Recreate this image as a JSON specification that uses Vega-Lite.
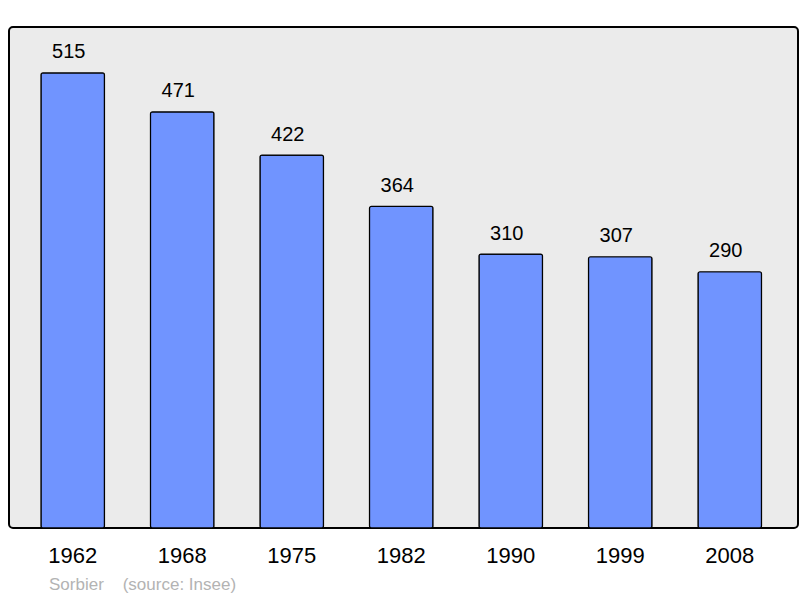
{
  "$schema": "https://vega.github.io/schema/vega-lite/v6.json",
  "width": 789,
  "height": 501,
  "autosize": {"type": "none"},
  "padding": {"left": 9, "top": 27, "right": 2, "bottom": 70},
  "background": "#ffffff",
  "config": {
    "view": {"fill": "#ebebeb", "stroke": "#000000", "strokeWidth": 2, "cornerRadius": 4},
    "font": "Liberation Sans"
  },
  "title": {
    "text": "Sorbier\u00a0\u00a0\u00a0\u00a0(source: Insee)",
    "orient": "bottom",
    "anchor": "start",
    "dx": 40,
    "offset": 11,
    "fontSize": 17,
    "fontWeight": "normal",
    "color": "#b3b3b3",
    "font": "Liberation Sans"
  },
  "data": {
    "values": [
      {"year": "1962", "pop": 515},
      {"year": "1968", "pop": 471},
      {"year": "1975", "pop": 422},
      {"year": "1982", "pop": 364},
      {"year": "1990", "pop": 310},
      {"year": "1999", "pop": 307},
      {"year": "2008", "pop": 290}
    ]
  },
  "encoding": {
    "x": {
      "field": "year",
      "type": "ordinal",
      "scale": {"paddingInner": 0.42, "paddingOuter": 0.3125, "align": 0.467},
      "axis": {"title": null, "domain": false, "ticks": false, "labelAngle": 0, "labelFontSize": 22, "labelColor": "#000", "labelPadding": 17, "grid": false}
    },
    "y": {
      "field": "pop",
      "type": "quantitative",
      "scale": {"domain": [0, 567], "nice": false},
      "axis": null
    }
  },
  "layer": [
    {
      "mark": {"type": "bar", "fill": "#7094ff", "stroke": "#000000", "strokeWidth": 1.2, "cornerRadius": 2}
    },
    {
      "mark": {"type": "text", "baseline": "alphabetic", "dy": -14.5, "dx": -4, "fontSize": 20, "color": "#000"},
      "encoding": {"text": {"field": "pop", "type": "quantitative"}}
    }
  ]
}
